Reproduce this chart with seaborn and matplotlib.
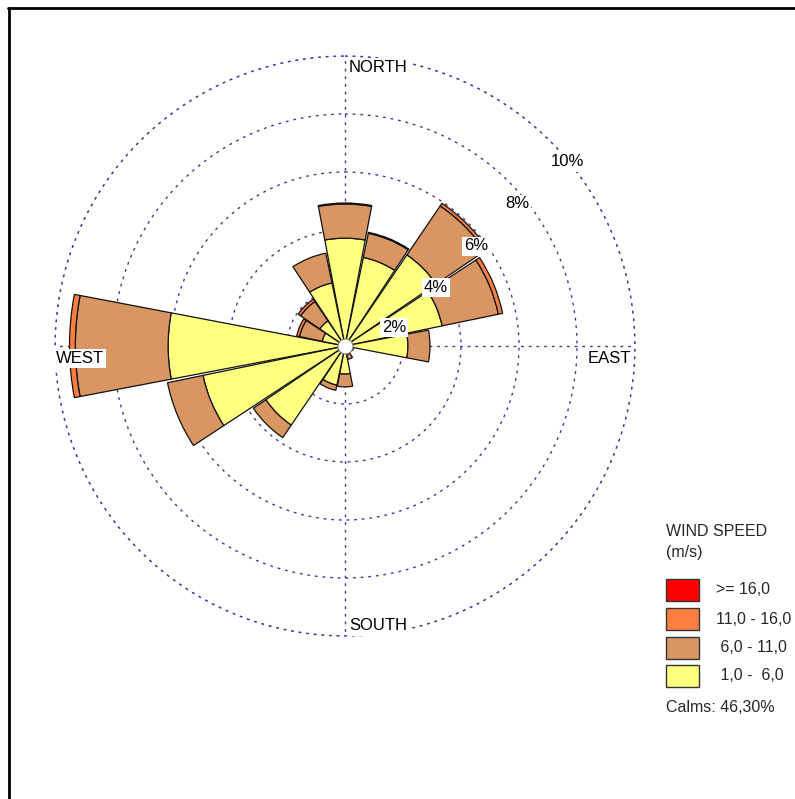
import numpy as np
import pandas as pd
import seaborn as sns
import matplotlib
matplotlib.use("Agg")
import matplotlib.pyplot as plt
from matplotlib.lines import Line2D
from matplotlib.patches import Rectangle

# ---------------- data ----------------
directions = ["N", "NNE", "NE", "ENE", "E", "ESE", "SE", "SSE",
              "S", "SSW", "SW", "WSW", "W", "WNW", "NW", "NNW"]
freq_1_6 = [3.72, 3.12, 3.80, 3.42, 2.17, 0.30, 0.20, 0.30,
            0.97, 1.38, 3.30, 5.00, 6.10, 0.80, 1.05, 2.22]
freq_6_11 = [1.18, 0.85, 2.04, 1.98, 0.76, 0.00, 0.00, 0.17,
             0.44, 0.18, 0.52, 1.25, 3.20, 0.80, 0.80, 1.05]
freq_11_16 = [0.03, 0.03, 0.11, 0.15, 0.00, 0.00, 0.00, 0.00,
              0.00, 0.00, 0.00, 0.00, 0.20, 0.10, 0.10, 0.00]
freq_16_up = [0.0] * 16
class_labels = [" 1,0 -  6,0", " 6,0 - 11,0", "11,0 - 16,0", ">= 16,0"]
calms_text = "Calms: 46,30%"
ring_levels = [2, 4, 6, 8, 10]
ring_labels = ["2%", "4%", "6%", "8%", "10%"]
compass_labels = ["NORTH", "EAST", "SOUTH", "WEST"]

df = pd.DataFrame({"direction": directions,
                   "c1": freq_1_6, "c2": freq_6_11,
                   "c3": freq_11_16, "c4": freq_16_up})

sns.set_theme(style="white")
plt.rcParams["font.family"] = ["Liberation Sans", "DejaVu Sans"]
colors = sns.color_palette(["#FFFF80", "#D99662", "#FF7F40", "#FF0000"])

W, H = 795, 799
fig = plt.figure(figsize=(W / 100, H / 100), dpi=100)
fig.patch.set_facecolor("white")

cx, cy, R = 345, 346, 290
ax = fig.add_axes([(cx - R) / W, (H - cy - R) / H, 2 * R / W, 2 * R / H],
                  projection="polar")
ax.set_theta_zero_location("N")
ax.set_theta_direction(-1)
ax.set_ylim(0, 10)
ax.set_facecolor("white")
ax.spines["polar"].set_visible(False)

grid_kw = dict(color="#3a3aa6", linewidth=1.0, linestyle=(0, (2, 3.5)))
ax.set_rgrids(ring_levels, labels=[""] * len(ring_levels))
ax.set_thetagrids([0, 90, 180, 270], labels=[""] * 4)
ax.grid(True, **grid_kw)
tt = np.linspace(0, 2 * np.pi, 400)
ax.plot(tt, np.full_like(tt, 10), zorder=1, clip_on=False, **grid_kw)
ax.set_axisbelow(True)

theta = np.deg2rad(np.arange(len(directions)) * 22.5)
width = np.deg2rad(22.5) * 0.96
bottom = np.zeros(len(directions))
for col, c in zip(["c1", "c2", "c3", "c4"], colors):
    vals = df[col].to_numpy()
    m = vals > 0
    if m.any():
        ax.bar(theta[m], vals[m], width=width, bottom=bottom[m], color=c,
               edgecolor="#111111", linewidth=0.9, zorder=3)
    bottom += vals

# calm circle
ax.scatter([0], [0], s=118, facecolor="white", edgecolor="#777777",
           linewidth=0.8, zorder=5)

fs = 12
bbox = dict(boxstyle="square,pad=0.12", facecolor="white", edgecolor="none")
pt = 0.72
compass_off = [(33, 279), (264, -13), (33, -280), (-265, -13)]
for lab, (dx, dy) in zip(compass_labels, compass_off):
    ax.annotate(lab, xy=(0, 0), xytext=(dx * pt, dy * pt),
                textcoords="offset points", ha="center", va="center",
                fontsize=fs, color="black", bbox=bbox, zorder=6)

ring_off = [(49, 18), (91, 59), (131, 100), (172, 142), (222, 184)]
for lab, (dx, dy) in zip(ring_labels, ring_off):
    ax.annotate(lab, xy=(0, 0), xytext=(dx * pt, dy * pt),
                textcoords="offset points", ha="center", va="center",
                fontsize=fs, color="black", bbox=bbox, zorder=6)

# frame lines (top and left)
fig.add_artist(Line2D([8 / W, 1], [1 - 8 / H, 1 - 8 / H],
                      transform=fig.transFigure, color="black", lw=2))
fig.add_artist(Line2D([9 / W, 9 / W], [0, 1 - 8 / H],
                      transform=fig.transFigure, color="black", lw=2))

# legend
def fx(px):
    return px / W

def fy(py):
    return 1 - py / H

fs_leg = 11.5
fig.text(fx(666), fy(531), "WIND SPEED", fontsize=fs_leg, ha="left", va="center")
fig.text(fx(666), fy(553), "(m/s)", fontsize=fs_leg, ha="left", va="center")
box_tops = [579, 608, 637, 665]
for top, c, lab in zip(box_tops, colors[::-1], class_labels[::-1]):
    fig.add_artist(Rectangle((fx(666), fy(top + 22)), 33 / W, 22 / H,
                             transform=fig.transFigure, facecolor=c,
                             edgecolor="#333333", linewidth=1))
    fig.text(fx(716), fy(top + 11), lab, fontsize=fs_leg, ha="left", va="center")
fig.text(fx(666), fy(707), calms_text, fontsize=fs_leg, ha="left", va="center")

fig.savefig("out.png", dpi=100, facecolor="white")
